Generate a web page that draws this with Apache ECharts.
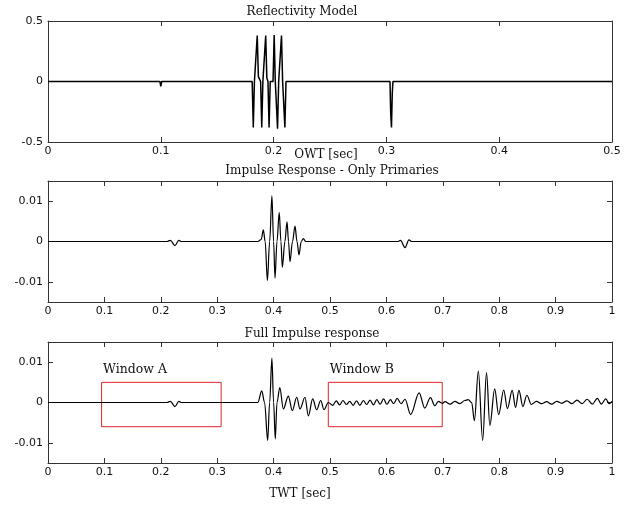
<!DOCTYPE html>
<html>
<head>
<meta charset="utf-8">
<script src="https://cdn.jsdelivr.net/npm/echarts@6/dist/echarts.min.js"></script>
<style>html,body{margin:0;padding:0;background:#fff}#c{width:629px;height:506px}</style>
</head>
<body>
<div id="c"></div>
<script>
// ---------- DATA ----------
// Panel 1: Reflectivity model (one-way time, s)
const refT = [0, 0.0992, 0.1, 0.1008,
  0.181, 0.182, 0.183, 0.1845, 0.1855, 0.1865, 0.1885, 0.1895, 0.1905, 0.192, 0.193, 0.194, 0.195, 0.196, 0.197, 0.1995, 0.2005, 0.2015, 0.2025, 0.2035, 0.2045, 0.206, 0.207, 0.208, 0.209, 0.210, 0.211,
  0.3032, 0.3038, 0.3045, 0.3052, 0.3058, 0.5];
const refV = [0, 0, -0.04, 0,
  0, -0.38, 0, 0, 0.38, 0.04, 0, -0.38, 0, 0, 0.38, 0.03, 0, -0.38, 0, 0, 0.385, 0, 0, -0.39, 0, 0, 0.38, 0, 0, -0.38, 0,
  0, -0.26, -0.38, -0.1, 0, 0];

// Panel 2: Impulse response, primaries only (two-way time, s)
const primT = [0, 0.211, 0.217, 0.225, 0.232, 0.237,
  0.372, 0.378, 0.3818, 0.385, 0.389, 0.393, 0.397, 0.400, 0.4025, 0.406, 0.410, 0.413, 0.4155, 0.420, 0.4238, 0.4265, 0.429, 0.4335, 0.438, 0.4415, 0.445, 0.449, 0.4527, 0.457, 0.462,
  0.620, 0.625, 0.633, 0.640, 0.645, 1.0];
const primV = [0, 0, 0.0003, -0.001, 0.0003, 0,
  0, 0.0005, 0.0029, 0, -0.0097, 0, 0.0113, 0, -0.0091, 0, 0.0072, 0, -0.0064, 0, 0.0049, 0, -0.0050, 0, 0.0038, 0, -0.0033, 0, 0.0007, 0, 0,
  0, 0.0003, -0.0015, 0.0004, 0, 0];

// Panel 3: Full impulse response (two-way time, s)
const fullT = [0, 0.211, 0.217, 0.225, 0.232, 0.237,
  0.372, 0.379, 0.384, 0.3895, 0.393, 0.397, 0.400, 0.403, 0.406, 0.411,
  0.4173, 0.4261, 0.4332, 0.441, 0.4468, 0.4557, 0.4616, 0.4693, 0.4764, 0.4835, 0.4894, 0.497,
  0.505, 0.511, 0.517, 0.523, 0.529, 0.535, 0.541, 0.547, 0.553, 0.559, 0.565, 0.571, 0.577, 0.583, 0.589, 0.595, 0.601, 0.607, 0.613, 0.619, 0.626, 0.633, 0.643, 0.658, 0.668, 0.678, 0.686, 0.692, 0.699,
  0.704, 0.713, 0.7215, 0.730, 0.739, 0.745, 0.7512, 0.756, 0.763, 0.7707, 0.7775, 0.7834, 0.792, 0.799, 0.808, 0.8146, 0.823, 0.829, 0.835, 0.842, 0.849, 0.857,
  0.866, 0.875, 0.884, 0.893, 0.902, 0.911, 0.920, 0.929, 0.938, 0.947, 0.956, 0.965, 0.974, 0.981, 0.989, 0.995, 1.0];
const fullV = [0, 0, 0.0003, -0.001, 0.0003, 0,
  0, 0.0029, 0, -0.0094, 0, 0.011, 0, -0.009, 0, 0.0037,
  -0.0016, 0.0016, -0.0020, 0.0013, -0.0016, 0.0013, -0.0033, 0.0009, -0.0018, 0.0005, -0.0018, 0,
  -0.0007, 0.0004, -0.0006, 0.0005, -0.0005, 0.0003, -0.0007, 0.0004, -0.0007, 0.0005, -0.0005, 0.0006, -0.0006, 0.0007, -0.0004, 0.0009, -0.0005, 0.0007, -0.0003, 0.0010, -0.0003, 0.0008, -0.0030, 0.0024, -0.0014, 0.0012, -0.0008, 0.0003, -0.0002,
  0.0002, -0.0004, 0.0003, -0.0003, 0.0005, 0.0007, 0, -0.0045, 0.0078, -0.0094, 0.0074, -0.0057, 0.0034, -0.0030, 0.0031, -0.0015, 0.0030, -0.0012, 0.0030, -0.0010, 0.0018, -0.0005,
  0.0003, -0.0003, 0.0002, -0.0004, 0.0003, -0.0002, 0.0004, -0.0003, 0.0006, -0.0003, 0.0008, -0.0004, 0.0010, -0.0004, 0.0009, -0.0003, 0.0003];

// Windows drawn on panel 3
const winNames = ['Window A', 'Window B'];
const winStart = [0.095, 0.497];
const winEnd = [0.307, 0.699];
const winTop = 0.005;
const winBottom = -0.006;

// Tick values
const xTicks1 = [0, 0.1, 0.2, 0.3, 0.4, 0.5];
const yTicks1 = [-0.5, 0, 0.5];
const xTicks23 = [0, 0.1, 0.2, 0.3, 0.4, 0.5, 0.6, 0.7, 0.8, 0.9, 1];
const yTicks23 = [-0.01, 0, 0.01];

// Texts
const titles = ['Reflectivity Model', 'Impulse Response - Only Primaries', 'Full Impulse response'];
const xNames = ['OWT [sec]', 'TWT [sec]'];

// ---------- CHART ----------
const zip = (a, b) => a.map((t, i) => [t, b[i]]);
const AX = '#333';
const labelFont = { fontFamily: 'DejaVu Sans', fontSize: 11, color: '#111' };
const serif = { fontFamily: 'DejaVu Serif', fontSize: 12, color: '#111', fontWeight: 'normal' };

const grids = [
  { left: 48, width: 564, top: 21, height: 121 },
  { left: 48, width: 564, top: 181, height: 121 },
  { left: 48, width: 564, top: 342, height: 121 }
];

function xAx(gi, min, max, ticks, bottom) {
  return {
    type: 'value', gridIndex: gi, min, max, position: bottom ? 'bottom' : 'top',
    axisLine: { show: true, onZero: false, lineStyle: { color: AX, width: 1 } },
    axisTick: { show: true, inside: true, length: 5, customValues: ticks, lineStyle: { color: AX } },
    axisLabel: { show: bottom, customValues: ticks, margin: 4, ...labelFont },
    splitLine: { show: false }
  };
}
function yAx(gi, min, max, ticks, left) {
  return {
    type: 'value', gridIndex: gi, min, max, position: left ? 'left' : 'right',
    axisLine: { show: true, onZero: false, lineStyle: { color: AX, width: 1 } },
    axisTick: { show: true, inside: true, length: 5, customValues: ticks, lineStyle: { color: AX } },
    axisLabel: { show: left, customValues: ticks, margin: 5, ...labelFont },
    splitLine: { show: false }
  };
}

const xAxis = [
  xAx(0, 0, 0.5, xTicks1, true), xAx(0, 0, 0.5, xTicks1, false),
  xAx(1, 0, 1, xTicks23, true), xAx(1, 0, 1, xTicks23, false),
  xAx(2, 0, 1, xTicks23, true), xAx(2, 0, 1, xTicks23, false)
];
const yAxis = [
  yAx(0, -0.5, 0.5, yTicks1, true), yAx(0, -0.5, 0.5, yTicks1, false),
  yAx(1, -0.015, 0.015, yTicks23, true), yAx(1, -0.015, 0.015, yTicks23, false),
  yAx(2, -0.015, 0.015, yTicks23, true), yAx(2, -0.015, 0.015, yTicks23, false)
];

const lineBase = { type: 'line', showSymbol: false, symbol: 'none', silent: true, animation: false };

const option = {
  animation: false,
  backgroundColor: '#fff',
  grid: grids,
  xAxis, yAxis,
  title: [
    { text: titles[0], left: 302, top: 5, textAlign: 'center', padding: 0, textStyle: { ...serif, lineHeight: 14 } },
    { text: xNames[0], left: 326, top: 148, textAlign: 'center', padding: 0, textStyle: { ...serif, lineHeight: 14 } },
    { text: titles[1], left: 332, top: 164, textAlign: 'center', padding: 0, textStyle: { ...serif, lineHeight: 14 } },
    { text: titles[2], left: 312, top: 327, textAlign: 'center', padding: 0, textStyle: { ...serif, lineHeight: 14 } },
    { text: xNames[1], left: 300, top: 487, textAlign: 'center', padding: 0, textStyle: { ...serif, lineHeight: 14 } }
  ],
  series: [
    { ...lineBase, xAxisIndex: 0, yAxisIndex: 0, data: zip(refT, refV), lineStyle: { color: '#000', width: 1.5 } },
    { ...lineBase, xAxisIndex: 2, yAxisIndex: 2, data: zip(primT, primV), smooth: 0.35, smoothMonotone: 'x', lineStyle: { color: '#000', width: 1.2 } },
    { ...lineBase, xAxisIndex: 4, yAxisIndex: 4, data: zip(fullT, fullV), smooth: 0.35, smoothMonotone: 'x', lineStyle: { color: '#000', width: 1.2 },
      markArea: {
        silent: true,
        itemStyle: { color: 'rgba(0,0,0,0)', borderColor: '#e0242a', borderWidth: 1 },
        label: { show: true, position: [2, -19], ...serif, fontSize: 12.5 },
        data: winNames.map((n, i) => [
          { name: n, xAxis: winStart[i], yAxis: winTop },
          { xAxis: winEnd[i], yAxis: winBottom }
        ])
      }
    }
  ]
};

const chart = echarts.init(document.getElementById('c'), null, { renderer: 'canvas' });
chart.setOption(option);
</script>
</body>
</html>
